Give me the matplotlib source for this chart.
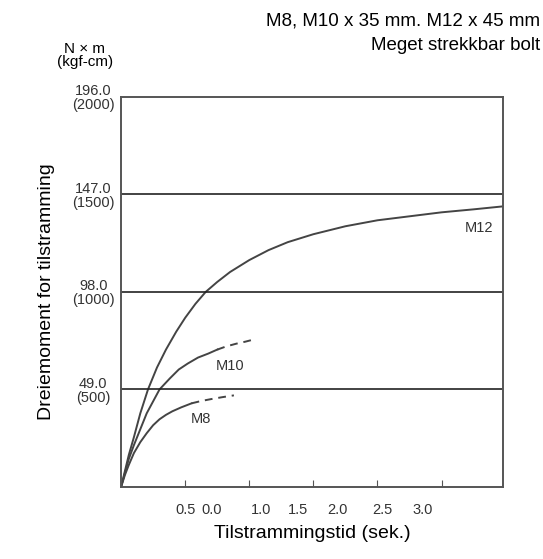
import matplotlib
matplotlib.use("Agg")
import matplotlib.pyplot as plt

plt.rcParams["font.family"] = ["Liberation Sans", "DejaVu Sans"]

m12_x = [0, 0.03, 0.06, 0.1, 0.15, 0.21, 0.28, 0.35, 0.43, 0.5, 0.58, 0.66, 0.75,
         0.85, 1.0, 1.15, 1.3, 1.5, 1.75, 2.0, 2.25, 2.5, 2.75, 2.98]
m12_y = [0, 8, 16, 25, 37, 49, 60, 69, 78, 85, 92, 98, 103,
         108, 114, 119, 123, 127, 131, 134, 136, 138, 139.5, 141]
m10_x = [0, 0.03, 0.06, 0.1, 0.15, 0.2, 0.25, 0.3, 0.38, 0.45, 0.52, 0.6, 0.68, 0.75]
m10_y = [0, 7, 14, 21, 29, 37, 43, 49, 54.5, 59, 62, 65, 67, 69]
m10_dash_x = [0.75, 0.82, 0.9, 0.97, 1.03]
m10_dash_y = [69, 70.6, 72, 73, 74]
m8_x = [0, 0.03, 0.06, 0.1, 0.15, 0.2, 0.25, 0.3, 0.35, 0.4, 0.47, 0.55]
m8_y = [0, 6, 11, 17, 22.5, 27, 31, 34, 36.2, 38, 40, 42]
m8_dash_x = [0.55, 0.62, 0.7, 0.79, 0.88]
m8_dash_y = [42, 43.1, 44.1, 45.1, 46]

grid_y = [49, 98, 147]
y_ticks = [49, 98, 147, 196]
y_labels = ["49.0\n(500)", "98.0\n(1000)", "147.0\n(1500)", "196.0\n(2000)"]
x_ticks = [0.5, 1.0, 1.5, 2.0, 2.5]
# the printed labels sit off the ticks in the original
x_label_pos = [0.5, 0.71, 1.09, 1.38, 1.69, 2.04, 2.35]
x_label_txt = ["0.5", "0.0", "1.0", "1.5", "2.0", "2.5", "3.0"]

fig = plt.figure(figsize=(5.43, 5.59), dpi=100)
ax = fig.add_axes([0.223, 0.129, 0.7035, 0.6976])
line = "#444444"
ax.plot(m12_x, m12_y, color=line, lw=1.4)
ax.plot(m10_x, m10_y, color=line, lw=1.4)
ax.plot(m10_dash_x, m10_dash_y, color=line, lw=1.4, ls=(0, (4, 3)))
ax.plot(m8_x, m8_y, color=line, lw=1.4)
ax.plot(m8_dash_x, m8_dash_y, color=line, lw=1.4, ls=(0, (4, 3)))
for g in grid_y:
    ax.axhline(g, color="#222222", lw=1.2)

ax.text(2.79, 130, "M12", fontsize=10.5, ha="center", va="center", color="#333333")
ax.text(0.85, 61, "M10", fontsize=10.5, ha="center", va="center", color="#333333")
ax.text(0.62, 34, "M8", fontsize=10.5, ha="center", va="center", color="#333333")

ax.set_xlim(0, 2.98)
ax.set_ylim(0, 196)
ax.set_xticks(x_ticks)
ax.set_xticklabels([])
ax.tick_params(axis="x", direction="in", length=5, color="#555555")
ax.set_yticks(y_ticks)
ax.set_yticklabels(y_labels, fontsize=10.5, linespacing=1.0, color="#333333",
                   ha="center")
ax.tick_params(axis="y", length=0, pad=20)
for t, p in zip(x_label_txt, x_label_pos):
    ax.text(p, -8, t, fontsize=10.5, ha="center", va="top", color="#333333")
for s in ax.spines.values():
    s.set_color("#555555")
    s.set_linewidth(1.4)

ax.set_ylabel("Dreiemoment for tilstramming", fontsize=14, labelpad=12)
ax.set_xlabel("Tilstrammingstid (sek.)", fontsize=14, labelpad=24)
fig.text(0.156, 0.9, "N × m\n(kgf-cm)", fontsize=11, ha="center", va="center", linespacing=0.9)
fig.text(0.995, 0.962, "M8, M10 x 35 mm. M12 x 45 mm", fontsize=13.5, ha="right", va="center")
fig.text(0.995, 0.918, "Meget strekkbar bolt", fontsize=13.5, ha="right", va="center")

fig.savefig("out.png", dpi=100)
